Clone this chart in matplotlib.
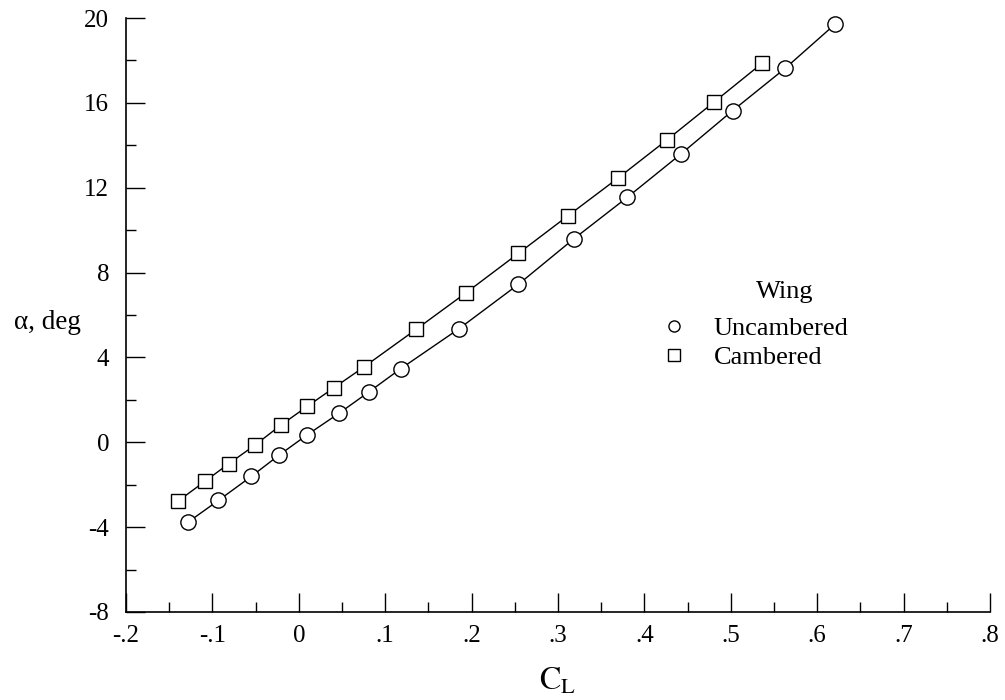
import matplotlib.pyplot as plt
from matplotlib.lines import Line2D
from matplotlib.ticker import MultipleLocator, FuncFormatter

plt.rcParams['font.family'] = ['Liberation Serif', 'DejaVu Serif']
plt.rcParams['mathtext.fontset'] = 'stix'
plt.rcParams['axes.unicode_minus'] = False

# uncambered wing
CL_UNCAMBERED = [-0.128, -0.093, -0.055, -0.023, 0.010, 0.047, 0.081, 0.118, 0.185,
                 0.254, 0.318, 0.380, 0.442, 0.502, 0.563, 0.621]
ALPHA_UNCAMBERED = [-3.76, -2.74, -1.61, -0.61, 0.36, 1.38, 2.37, 3.47, 5.34,
                    7.44, 9.58, 11.54, 13.58, 15.63, 17.63, 19.72]

# cambered wing
CL_CAMBERED = [-0.140, -0.108, -0.081, -0.051, -0.021, 0.010, 0.041, 0.075, 0.136,
               0.194, 0.254, 0.311, 0.369, 0.426, 0.481, 0.536]
ALPHA_CAMBERED = [-2.78, -1.82, -1.01, -0.14, 0.80, 1.70, 2.58, 3.54, 5.33,
                  7.06, 8.90, 10.66, 12.44, 14.25, 16.05, 17.86]

SERIES_LABELS = ["Uncambered", "Cambered"]
LEGEND_TITLE = "Wing"


def fmt_x(v, pos):
    if abs(v) < 1e-9:
        return "0"
    s = "%.1f" % v
    return s.replace("0.", ".")


figure = plt.figure(figsize=(10.05, 7.0), dpi=100)
ax = figure.add_axes([126 / 1005, 88 / 700, 864 / 1005, 594 / 700])

ax.plot(CL_UNCAMBERED, ALPHA_UNCAMBERED, color='black', lw=1.0, marker='o',
        ms=11, mfc='white', mec='black', mew=1.0, clip_on=False)
ax.plot(CL_CAMBERED, ALPHA_CAMBERED, color='black', lw=1.0, marker='s',
        ms=10.5, mfc='white', mec='black', mew=1.0, clip_on=False)

ax.set_xlim(-0.2, 0.8)
ax.set_ylim(-8, 20)
ax.xaxis.set_major_locator(MultipleLocator(0.1))
ax.xaxis.set_minor_locator(MultipleLocator(0.05))
ax.yaxis.set_major_locator(MultipleLocator(4))
ax.yaxis.set_minor_locator(MultipleLocator(2))
ax.xaxis.set_major_formatter(FuncFormatter(fmt_x))
ax.tick_params(which='major', direction='in', length=13.5, width=1.0, labelsize=18)
ax.tick_params(axis='y', which='major', pad=12)
ax.tick_params(axis='x', which='major', pad=9)
ax.tick_params(which='minor', direction='in', length=7, width=1.0)

for side in ['top', 'right']:
    ax.spines[side].set_visible(False)
for side in ['left', 'bottom']:
    ax.spines[side].set_linewidth(1.2)

ax.set_xlabel(r"$\mathrm{C_L}$", fontsize=23, labelpad=14)
ax.set_ylabel("α, deg", fontsize=19.5, rotation=0, va='center', ha='center')
ax.yaxis.set_label_coords(-0.0914, 0.487)

handles = [Line2D([], [], ls='none', marker='o', ms=8, mfc='white', mec='black', mew=1.0),
           Line2D([], [], ls='none', marker='s', ms=8, mfc='white', mec='black', mew=1.0)]
leg = ax.legend(handles, SERIES_LABELS, frameon=False, fontsize=19,
                loc='upper left', bbox_to_anchor=(0.619, 0.497),
                handlelength=1.0, handletextpad=1.0, labelspacing=0.2,
                borderaxespad=0, borderpad=0)
ax.text(0.762, 0.538, LEGEND_TITLE, transform=ax.transAxes, fontsize=19,
        ha='center', va='center')

figure.savefig("out.png", dpi=100)
